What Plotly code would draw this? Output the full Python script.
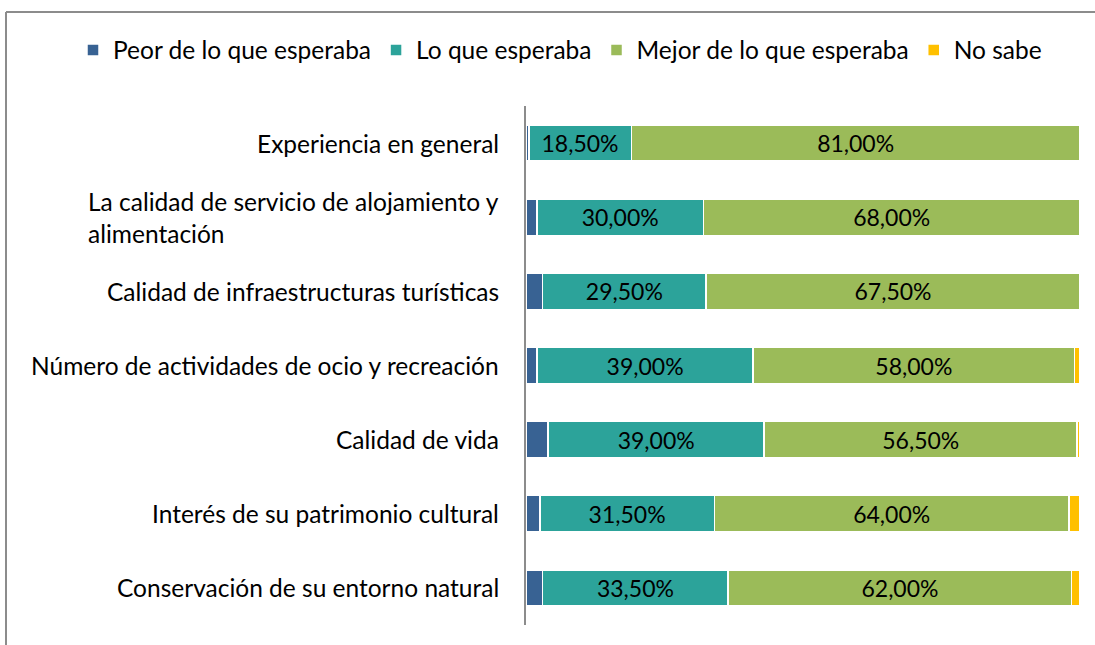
import plotly.graph_objects as go

categories = [
    "Experiencia en general",
    "La calidad de servicio de alojamiento y<br>alimentación",
    "Calidad de infraestructuras turísticas",
    "Número de actividades de ocio y recreación",
    "Calidad de vida",
    "Interés de su patrimonio cultural",
    "Conservación de su entorno natural",
]
peor = [0.5, 2.0, 3.0, 2.0, 4.0, 2.5, 3.0]
lo_que = [18.5, 30.0, 29.5, 39.0, 39.0, 31.5, 33.5]
mejor = [81.0, 68.0, 67.5, 58.0, 56.5, 64.0, 62.0]
no_sabe = [0.0, 0.0, 0.0, 1.0, 0.5, 2.0, 1.5]

series_names = ["Peor de lo que esperaba", "Lo que esperaba", "Mejor de lo que esperaba", "No sabe"]
series_vals = [peor, lo_que, mejor, no_sabe]
colors = ["#386293", "#2CA39A", "#9BBB59", "#FFC000"]
show_labels = [False, True, True, False]

FONT = "Lato"
LBL = 23
CAT = 24.5

fig = go.Figure()
for name, vals, col, lab in zip(series_names, series_vals, colors, show_labels):
    fig.add_trace(go.Bar(
        y=categories, x=vals, name=name, orientation="h",
        marker=dict(color=col, line=dict(color="white", width=1.5)),
        text=vals if lab else None,
        texttemplate="%{x:.2f}%" if lab else None,
        textposition="inside" if lab else "none",
        insidetextanchor="middle",
        textfont=dict(color="black", size=LBL, family=FONT),
        hoverinfo="skip",
    ))

for c in categories:
    fig.add_annotation(
        x=0, xref="paper", y=c, yref="y", xanchor="right", xshift=-25,
        text=c, showarrow=False, align="left",
        font=dict(size=CAT, family=FONT, color="black"),
    )

L, T, PW, PH = 526, 106, 554, 519
def pxx(px):
    return (px - L) / PW
def pxy(py):
    return 1 - (py - T) / PH

# chart border (left and top edges visible)
fig.add_shape(type="line", xref="paper", yref="paper",
              x0=pxx(6), x1=pxx(6), y0=pxy(700), y1=pxy(12),
              line=dict(color="#8c8c8c", width=2))
fig.add_shape(type="line", xref="paper", yref="paper",
              x0=pxx(6), x1=pxx(1200), y0=pxy(12), y1=pxy(12),
              line=dict(color="#8c8c8c", width=2))

fig.update_layout(
    width=1095, height=645,
    barmode="stack", bargap=0.51,
    separators=",.",
    paper_bgcolor="white", plot_bgcolor="white",
    margin=dict(l=L, r=1095 - L - PW, t=T, b=645 - T - PH),
    font=dict(family=FONT, size=LBL, color="black"),
    legend=dict(orientation="h", xref="paper", x=pxx(73), xanchor="left",
                yref="paper", y=pxy(50), yanchor="middle",
                font=dict(size=CAT, family=FONT), itemwidth=30,
                traceorder="normal", bgcolor="rgba(0,0,0,0)"),
    showlegend=True,
    xaxis=dict(range=[0, 100], showticklabels=False, showgrid=False, zeroline=False,
               fixedrange=True),
    yaxis=dict(autorange="reversed", showticklabels=False, showgrid=False,
               showline=True, linecolor="#8c8c8c", linewidth=1.5, ticks="",
               fixedrange=True),
    uniformtext=dict(mode="show", minsize=10),
)

fig.write_html("out.html", config={"displayModeBar": False},
               post_script="document.body.style.margin='0px';")
